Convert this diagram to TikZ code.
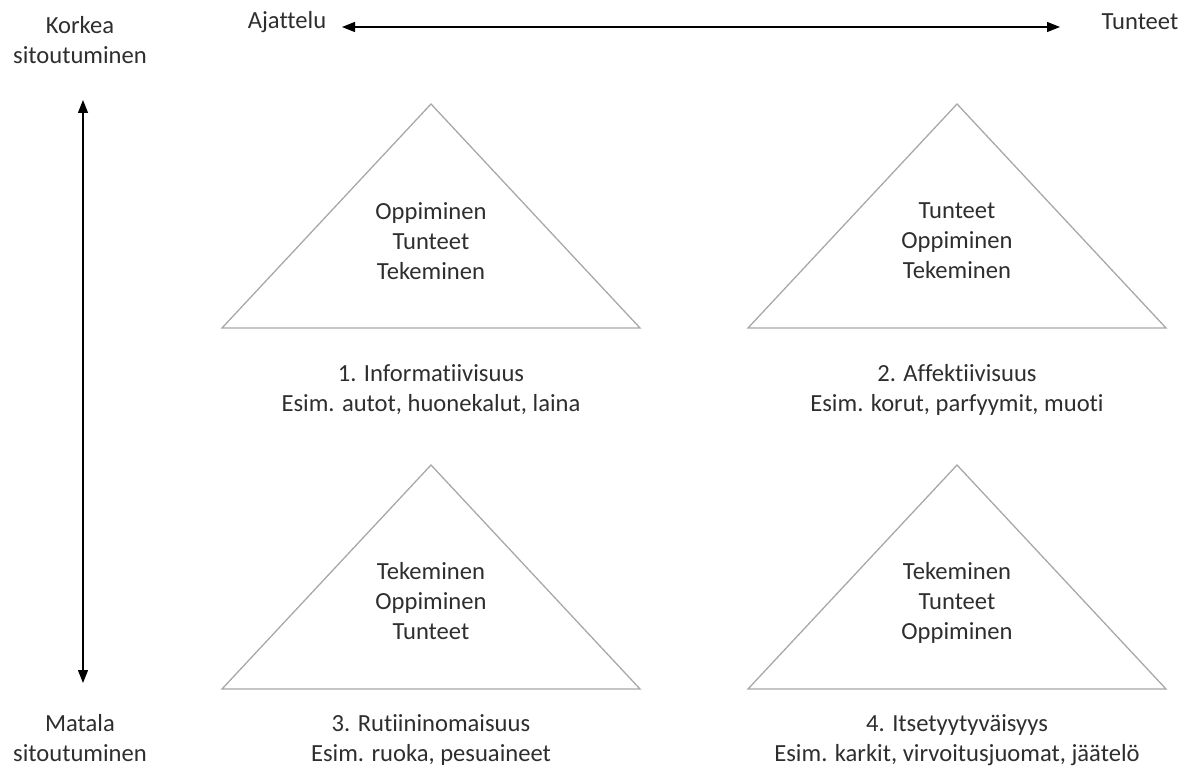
\documentclass[tikz,border=0pt]{standalone}
\usepackage{fontspec}
\setmainfont{Carlito}[Ligatures={NoCommon}]
\usetikzlibrary{arrows.meta}
\definecolor{txt}{HTML}{2E2E2E}
\definecolor{edge}{HTML}{A8A8A8}
\begin{document}
\begin{tikzpicture}[x=1pt,y=-1pt,
  lbl/.style={text=txt,align=center,inner sep=0pt,
    font=\fontsize{24.6}{30}\selectfont},
  tri/.style={draw=edge,line width=1.3pt,line join=miter},
  axis/.style={draw=black,line width=1.3pt,
    {Triangle[length=13pt,width=10pt]}-{Triangle[length=13pt,width=10pt]}}]
\useasboundingbox (0,0) rectangle (1197,767);

% axes
\coordinate (hl) at (342,27);
\coordinate (hr) at (1060,27);
\coordinate (vt) at (83,100);
\coordinate (vb) at (83,683);
\draw[axis] (hl) -- (hr);
\draw[axis] (vt) -- (vb);

\node[lbl] (ajattelu) at (287,22) {Ajattelu};
\node[lbl] (tunteet) at (1140,22) {Tunteet};
\node[lbl] (korkea) at (80,40) {Korkea\\sitoutuminen};
\node[lbl] (matala) at (80,738) {Matala\\sitoutuminen};

% triangles
\draw[tri] (431,104) -- (640,328) -- (222,328) -- cycle;
\draw[tri] (957,104) -- (1166,328) -- (748,328) -- cycle;
\draw[tri] (431,465) -- (640,689) -- (222,689) -- cycle;
\draw[tri] (957,465) -- (1166,689) -- (748,689) -- cycle;

% triangle contents
\node[lbl] (t1) at (431,241) {Oppiminen\\Tunteet\\Tekeminen};
\node[lbl] (t2) at (957,241) {Tunteet\\Oppiminen\\Tekeminen};
\node[lbl] (t3) at (431,601) {Tekeminen\\Oppiminen\\Tunteet};
\node[lbl] (t4) at (957,603) {Tekeminen\\Tunteet\\Oppiminen};

% captions
\node[lbl] (c1) at (431,390) {1. Informatiivisuus\\Esim. autot, huonekalut, laina};
\node[lbl] (c2) at (957,390) {2. Affektiivisuus\\Esim. korut, parfyymit, muoti};
\node[lbl] (c3) at (431,740) {3. Rutiininomaisuus\\Esim. ruoka, pesuaineet};
\node[lbl] (c4) at (957,740) {4. Itsetyytyväisyys\\Esim. karkit, virvoitusjuomat, jäätelö};
\end{tikzpicture}
\end{document}
